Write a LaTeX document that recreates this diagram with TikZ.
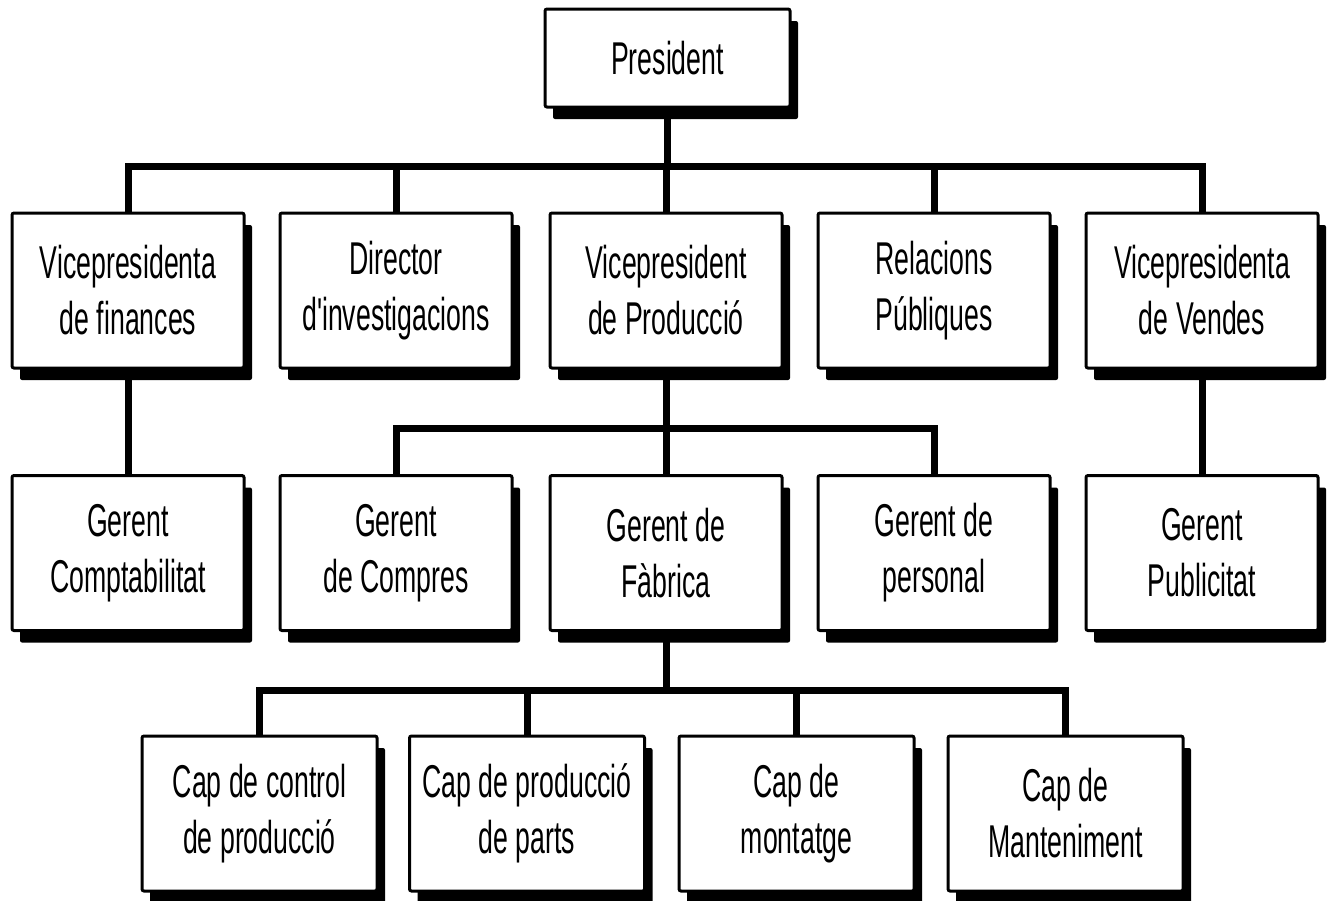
\documentclass[tikz,border=0pt]{standalone}
\usepackage{fontspec}
% condensed sans for the box labels; no TeX quote mapping, so ' stays straight
\newfontfamily\boxfont{Liberation Sans}[FakeStretch=0.58]
\usetikzlibrary{shadows}
\begin{document}
\begin{tikzpicture}[x=1pt,y=-1pt,
  post/.style={draw=black, line width=3pt, rounded corners=2pt, fill=white,
    inner sep=0pt, align=center,
    font=\boxfont\fontsize{46}{56}\selectfont,
    drop shadow={opacity=1, fill=black, shadow xshift=8pt, shadow yshift=-12pt}},
  wide/.style={post, minimum width=232pt, minimum height=155pt},
  low/.style={post, minimum width=235pt, minimum height=155pt},
  link/.style={line width=7pt, line join=miter, line cap=butt}]
\useasboundingbox (0,0) rectangle (1329,900);

% top
\node[post, minimum width=245pt, minimum height=98pt] (pres) at (667.5,58) {President};

% first level
\node[wide] (fin) at (128,290.5) {Vicepresidenta\\de finances};
\node[wide] (inv) at (396,290.5) {Director\\d'investigacions};
\node[wide] (prod) at (666,290.5) {Vicepresident\\de Producció};
\node[wide] (rel) at (934,290.5) {Relacions\\Públiques};
\node[wide] (ven) at (1202,290.5) {Vicepresidenta\\de Vendes};

% second level
\node[wide] (comp) at (128,553) {Gerent\\Comptabilitat};
\node[wide] (compr) at (396,553) {Gerent\\de Compres};
\node[wide] (fab) at (666,553) {Gerent de\\Fàbrica};
\node[wide] (pers) at (934,553) {Gerent de\\personal};
\node[wide] (pub) at (1202,553) {Gerent\\Publicitat};

% third level
\node[low] (ctrl) at (259.5,813.5) {Cap de control\\de producció};
\node[low] (parts) at (527,813.5) {Cap de producció\\de parts};
\node[low] (mont) at (796.5,813.5) {Cap de\\montatge};
\node[low] (mant) at (1065.5,813.5) {Cap de\\Manteniment};

% connectors
\foreach \c in {fin,inv,prod,rel,ven}
  \draw[link] (pres.south) -- ++(0,57.5) -| (\c.north);
\foreach \c in {compr,fab,pers}
  \draw[link] (prod.south) -- ++(0,58.5) -| (\c.north);
\draw[link] (fin.south) -- (comp.north);
\draw[link] (ven.south) -- (pub.north);
\foreach \c in {ctrl,parts,mont,mant}
  \draw[link] (fab.south) -- ++(0,58.5) -| (\c.north);
\end{tikzpicture}
\end{document}
